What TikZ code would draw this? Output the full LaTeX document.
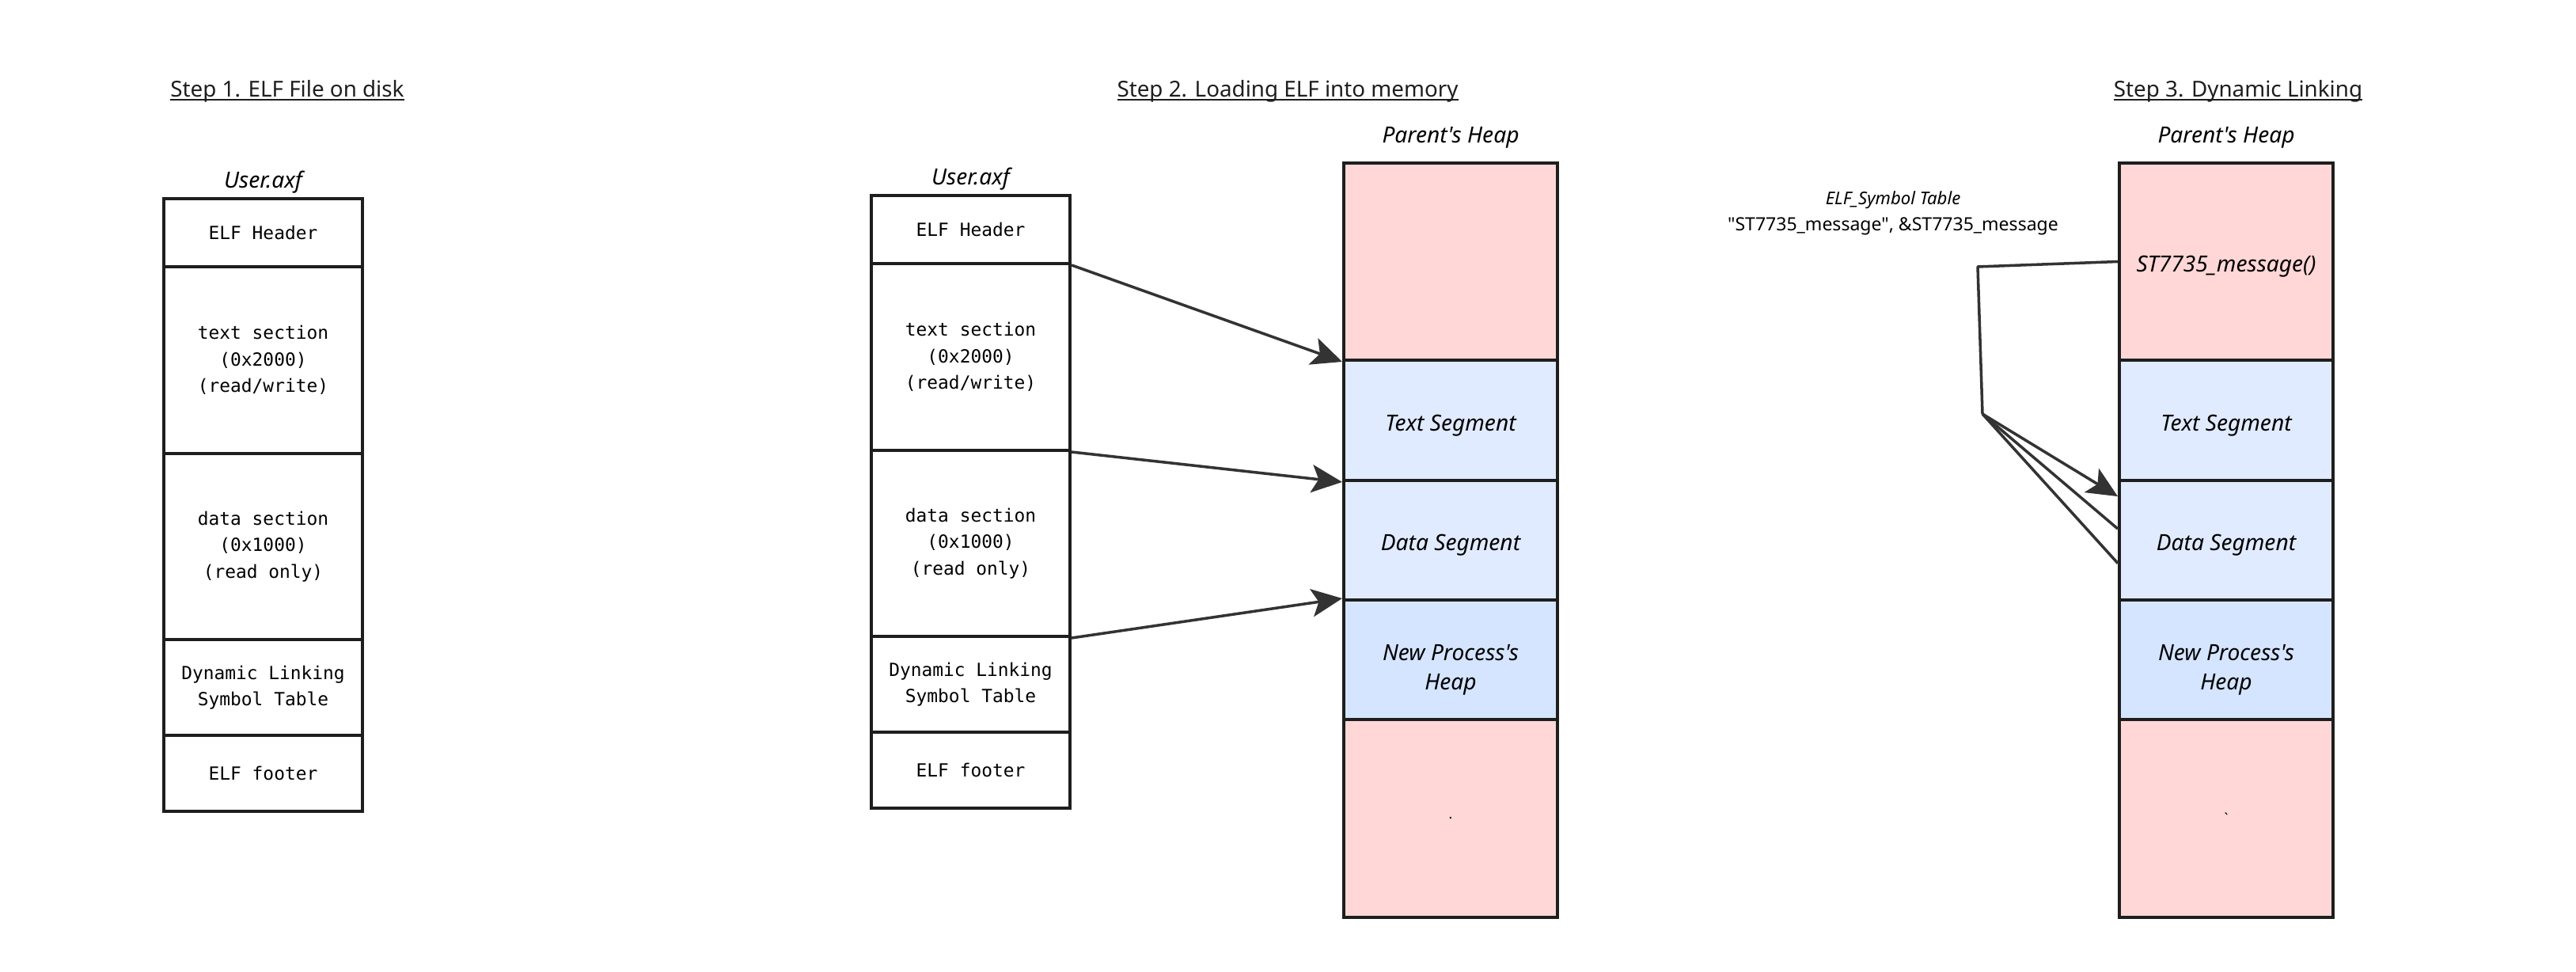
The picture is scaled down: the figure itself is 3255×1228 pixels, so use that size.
\documentclass[tikz,border=0pt]{standalone}
\usepackage{fontspec}
\setmainfont{Noto Sans}[Ligatures=TeXOff]
\setmonofont{DejaVu Sans Mono}
\usepackage{tikz}
\usetikzlibrary{arrows.meta}
\newsavebox{\ulbox}
\newcommand{\uln}[1]{\sbox{\ulbox}{#1}\usebox{\ulbox}\llap{\rule[-1.2pt]{\wd\ulbox}{0.6pt}}}
\definecolor{heapred}{HTML}{FFD7D7}
\definecolor{segblue}{HTML}{E1EBFF}
\definecolor{newblue}{HTML}{D5E5FF}
\definecolor{ink}{HTML}{1E1E1E}
\definecolor{wirecol}{HTML}{333333}
\tikzset{>/.tip={Stealth[length=11pt,width=10pt,inset=2.5pt]},
  elf/.style={draw=ink, line width=1.1pt, minimum width=2.51cm, inner sep=0pt, align=center, font=\ttfamily\fontsize{6.5}{9.5}\selectfont},
  mem/.style={draw=ink, line width=1.1pt, minimum width=2.7cm, inner sep=0pt, align=center, text height=7.4pt, text depth=0pt, font=\itshape\fontsize{8}{10.5}\selectfont},
  twoline/.style={text height=21.7pt, text depth=0pt},
  steptitle/.style={anchor=base, text=ink, font=\fontsize{7.9}{10}\selectfont},
  lbl/.style={anchor=base, font=\itshape\fontsize{8}{10}\selectfont},
  wire/.style={draw=wirecol, line width=1pt, line join=round}}

\begin{document}
\begin{tikzpicture}[x=0.01cm,y=-0.01cm]
\useasboundingbox (0,0) rectangle (3255,1228);
% step 1
\node[steptitle] (st1) at (363,123) {\uln{Step 1. ELF File on disk}};
\node[lbl] (u1) at (332.5,238) {User.axf};
\node[elf, minimum height=0.86cm] (h1) at (332.5,294)   {ELF Header};
\node[elf, minimum height=2.36cm] (t1) at (332.5,455)   {text section\\(0x2000)\\(read/write)};
\node[elf, minimum height=2.35cm] (d1) at (332.5,690.5) {data section\\(0x1000)\\(read only)};
\node[elf, minimum height=1.21cm] (s1) at (332.5,868.5) {Dynamic Linking\\Symbol Table};
\node[elf, minimum height=0.96cm] (f1) at (332.5,977)   {ELF footer};
% step 2
\node[steptitle] (st2) at (1627,123) {\uln{Step 2. Loading ELF into memory}};
\node[lbl] (u2) at (1226.5,234) {User.axf};
\node[elf, minimum height=0.86cm] (h2) at (1226.5,290)   {ELF Header};
\node[elf, minimum height=2.36cm] (t2) at (1226.5,451)   {text section\\(0x2000)\\(read/write)};
\node[elf, minimum height=2.35cm] (d2) at (1226.5,686.5) {data section\\(0x1000)\\(read only)};
\node[elf, minimum height=1.21cm] (s2) at (1226.5,864.5) {Dynamic Linking\\Symbol Table};
\node[elf, minimum height=0.96cm] (f2) at (1226.5,973)   {ELF footer};
\node[lbl] (ph2) at (1833,181) {Parent's Heap};
\node[mem, fill=heapred, minimum height=2.49cm] (p2)  at (1833,330.5) {};
\node[mem, fill=segblue, minimum height=1.52cm] (ts2) at (1833,531)   {Text Segment};
\node[mem, fill=segblue, minimum height=1.51cm] (ds2) at (1833,682.5) {Data Segment};
\node[mem, twoline, fill=newblue, minimum height=1.51cm] (n2) at (1833,833.5) {New Process's\\Heap};
\node[mem, fill=heapred, minimum height=2.50cm, text height=, text depth=, font=\fontsize{5}{6}\selectfont] (q2) at (1833,1034) {.};
\foreach \i/\j in {h2/p2.south west, t2/ts2.south west, d2/n2.north west}
{
  \draw[wire,->] (\i.south east) to (\j);
}
% step 3
\node[steptitle] (st3) at (2828,123) {\uln{Step 3. Dynamic Linking}};
\node[lbl] (ph3) at (2813,181) {Parent's Heap};
\node[mem, fill=heapred, minimum height=2.49cm] (p3)  at (2813,330.5) {ST7735\_message()};
\node[mem, fill=segblue, minimum height=1.52cm] (ts3) at (2813,531)   {Text Segment};
\node[mem, fill=segblue, minimum height=1.51cm] (ds3) at (2813,682.5) {Data Segment};
\node[mem, twoline, fill=newblue, minimum height=1.51cm] (n3) at (2813,833.5) {New Process's\\Heap};
\node[mem, fill=heapred, minimum height=2.50cm, text height=, text depth=, font=\fontsize{5}{6}\selectfont] (q3) at (2813,1034) {`};
\node[font=\itshape\fontsize{6.3}{8}\selectfont] (sym) at (2392,253) {ELF\_Symbol Table};
\node[font=\fontsize{6.55}{8}\selectfont] (symv) at (2392,286) {"ST7735\_message", \&ST7735\_message};
\coordinate (bend) at (2499,337);
\coordinate (hub) at (2505,523);
\draw[wire] (p3.west) -- (bend) -- (hub);
\draw[wire,->] (hub) -- (ds3.158);
\foreach \a in {174,192}
{
  \draw[wire] (hub) -- (ds3.\a);
}
\end{tikzpicture}
\end{document}
